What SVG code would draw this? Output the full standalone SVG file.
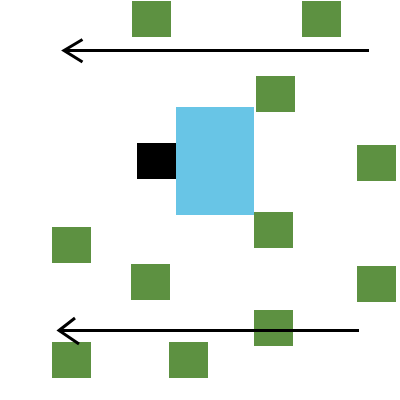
<svg xmlns="http://www.w3.org/2000/svg" width="400" height="400" viewBox="0 0 400 400">
<style>
.g{fill:#5d9141}
.a{fill:none;stroke:#000;stroke-width:3}
</style>
<rect width="400" height="400" fill="#fff"/>
<g id="blocks">
<rect class="g" x="132" y="1" width="39" height="36"/>
<rect class="g" x="302" y="1" width="39" height="36"/>
<rect class="g" x="256" y="76" width="39" height="36"/>
<rect id="blue" x="176" y="107" width="78" height="108" fill="#68c5e6"/>
<rect id="black" x="137" y="143" width="39" height="36" fill="#000"/>
<rect class="g" x="357" y="145" width="39" height="36"/>
<rect class="g" x="254" y="212" width="39" height="36"/>
<rect class="g" x="52" y="227" width="39" height="36"/>
<rect class="g" x="131" y="264" width="39" height="36"/>
<rect class="g" x="357" y="266" width="39" height="36"/>
<rect class="g" x="254" y="310" width="39" height="36"/>
<rect class="g" x="52" y="342" width="39" height="36"/>
<rect class="g" x="169" y="342" width="39" height="36"/>
</g>
<g id="connectors">
<path class="a" d="M369 50.5H64M82.5 39.5L64 50.5L82.5 62"/>
<path class="a" d="M359 330.5H59M75 318L59 330.5L79 344"/>
</g>
</svg>
